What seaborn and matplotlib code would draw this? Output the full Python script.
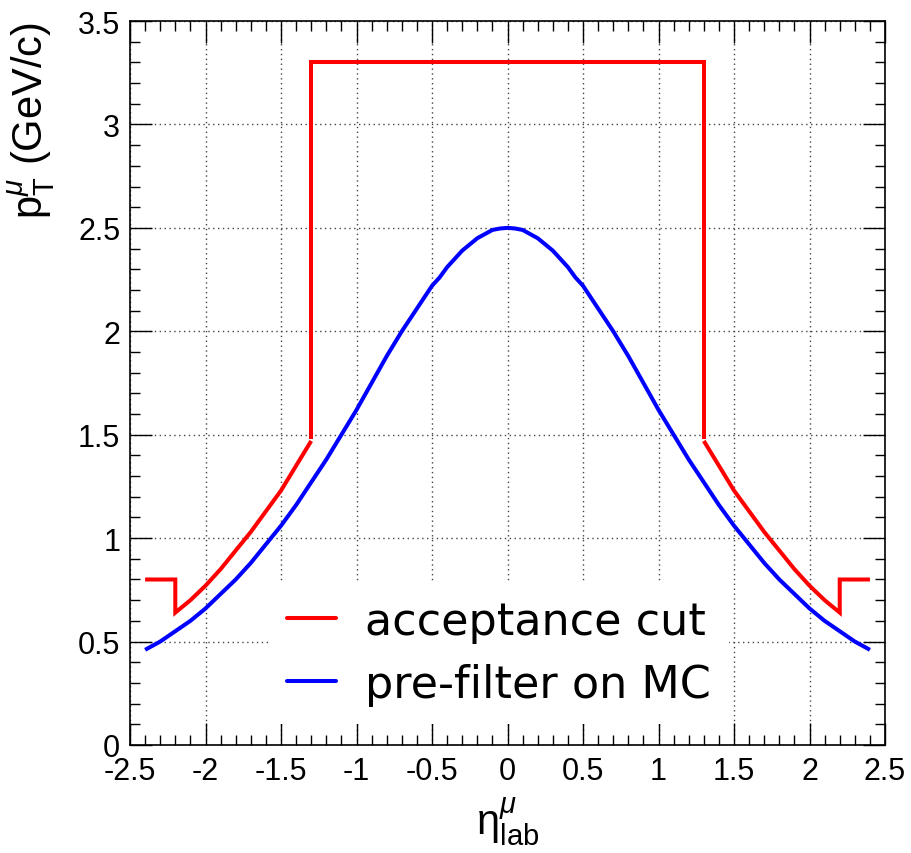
import numpy as np
import pandas as pd
import matplotlib
matplotlib.use("Agg")
import matplotlib.pyplot as plt
from matplotlib.ticker import MultipleLocator
from matplotlib.lines import Line2D
import seaborn as sns

# pre-filter on MC (blue)
blue_eta = [-2.4, -2.3, -2.2, -2.1, -2.0, -1.9, -1.8, -1.7, -1.6, -1.5, -1.4, -1.3, -1.2,
            -1.1, -1.0, -0.9, -0.8, -0.7, -0.6, -0.5, -0.45, -0.4, -0.35, -0.3, -0.25,
            -0.2, -0.15, -0.1, -0.05, 0.0, 0.05, 0.1, 0.15, 0.2, 0.25, 0.3, 0.35, 0.4,
            0.45, 0.5, 0.6, 0.7, 0.8, 0.9, 1.0, 1.1, 1.2, 1.3, 1.4,
            1.5, 1.6, 1.7, 1.8, 1.9, 2.0, 2.1, 2.2, 2.3, 2.4]
blue_pt = [0.46, 0.50, 0.55, 0.60, 0.66, 0.73, 0.80, 0.88, 0.97, 1.06, 1.16, 1.27, 1.38,
           1.50, 1.62, 1.75, 1.88, 2.00, 2.11, 2.22, 2.26, 2.31, 2.35, 2.39, 2.42,
           2.45, 2.47, 2.49, 2.497, 2.50, 2.497, 2.49, 2.47, 2.45, 2.42, 2.39, 2.35, 2.31,
           2.26, 2.22, 2.11, 2.00, 1.88, 1.75, 1.62, 1.50, 1.38, 1.27, 1.16,
           1.06, 0.97, 0.88, 0.80, 0.73, 0.66, 0.60, 0.55, 0.50, 0.46]

# acceptance cut (red), three pieces
red_left_eta = [-2.4, -2.2, -2.2, -2.1, -2.0, -1.9, -1.8, -1.7, -1.6, -1.5, -1.4, -1.3]
red_left_pt = [0.80, 0.80, 0.64, 0.70, 0.77, 0.85, 0.94, 1.03, 1.13, 1.23, 1.35, 1.47]
red_mid_eta = [-1.3, -1.3, 1.3, 1.3]
red_mid_pt = [1.48, 3.30, 3.30, 1.48]
red_right_eta = [1.3, 1.4, 1.5, 1.6, 1.7, 1.8, 1.9, 2.0, 2.1, 2.2, 2.2, 2.4]
red_right_pt = [1.47, 1.35, 1.23, 1.13, 1.03, 0.94, 0.85, 0.77, 0.70, 0.64, 0.80, 0.80]

x_labels = ['-2.5', '-2', '-1.5', '-1', '-0.5', '0', '0.5', '1', '1.5', '2', '2.5']
y_labels = ['0', '0.5', '1', '1.5', '2', '2.5', '3', '3.5']
legend_labels = ['acceptance cut', 'pre-filter on MC']

sns.set_style("ticks")
plt.rcParams.update({
    'font.family': ['Liberation Sans', 'DejaVu Sans'],
    'mathtext.fontset': 'custom',
    'mathtext.rm': 'Liberation Sans',
    'mathtext.it': 'Liberation Sans:italic',
    'mathtext.bf': 'Liberation Sans:bold',
    'text.color': 'black',
    'axes.labelcolor': 'black',
})

red = pd.concat([
    pd.DataFrame({'eta': red_left_eta, 'pt': red_left_pt, 'piece': 0}),
    pd.DataFrame({'eta': red_mid_eta, 'pt': red_mid_pt, 'piece': 1}),
    pd.DataFrame({'eta': red_right_eta, 'pt': red_right_pt, 'piece': 2}),
], ignore_index=True)
blue = pd.DataFrame({'eta': blue_eta, 'pt': blue_pt})

fig = plt.figure(figsize=(9.11, 8.54), dpi=100)
ax = fig.add_axes([0.1427, 0.1265, 0.8288, 0.8477])

sns.lineplot(data=red, x='eta', y='pt', units='piece', estimator=None, sort=False,
             color='#ff0000', linewidth=2.9, ax=ax, zorder=3)
sns.lineplot(data=blue, x='eta', y='pt', sort=False, estimator=None,
             color='#0000ff', linewidth=2.9, ax=ax, zorder=3)
for ln in ax.lines:
    ln.set_solid_joinstyle('miter')
    ln.set_solid_capstyle('butt')

ax.set_xlim(-2.5, 2.5)
ax.set_ylim(0, 3.5)
ax.xaxis.set_minor_locator(MultipleLocator(0.1))
ax.yaxis.set_minor_locator(MultipleLocator(0.1))
ax.set_xticks(np.arange(-2.5, 2.51, 0.5))
ax.set_xticklabels(x_labels)
ax.set_yticks(np.arange(0, 3.51, 0.5))
ax.set_yticklabels(y_labels)

ax.tick_params(which='both', direction='in', top=True, right=True, colors='black',
               labelsize=22)
ax.tick_params(which='major', length=15.5, width=1.0)
ax.tick_params(which='minor', length=7.5, width=1.0)
ax.tick_params(axis='x', pad=8)
ax.tick_params(axis='y', pad=7)
for s in ax.spines.values():
    s.set_linewidth(1.2)
    s.set_color('black')

ax.grid(True, which='major', linestyle=(0, (1, 2.5)), linewidth=1.0, color='#444444')
ax.set_axisbelow(True)

ax.set_xlabel(r'$\mathrm{\eta}^{\mu}_{\mathrm{lab}}$', fontsize=30, labelpad=6)
ax.set_ylabel(r'$\mathrm{p}^{\mu}_{\mathrm{T}}$ (GeV/c)', fontsize=30, loc='top')
ax.yaxis.set_label_coords(-0.097, 1.0)

handles = [Line2D([], [], color='#ff0000', linewidth=2.9),
           Line2D([], [], color='#0000ff', linewidth=2.9)]
leg = ax.legend(handles, legend_labels,
                loc='upper left', bbox_to_anchor=(0.185, 0.225),
                prop={'family': 'DejaVu Sans', 'size': 32},
                handlelength=1.1, handletextpad=0.65, labelspacing=0.45,
                frameon=True, facecolor='white', edgecolor='none', framealpha=1.0,
                borderpad=0.4, borderaxespad=0)
leg.set_zorder(2)
for t in leg.get_texts():
    t.set_color('black')

fig.savefig('out.png', dpi=100)
